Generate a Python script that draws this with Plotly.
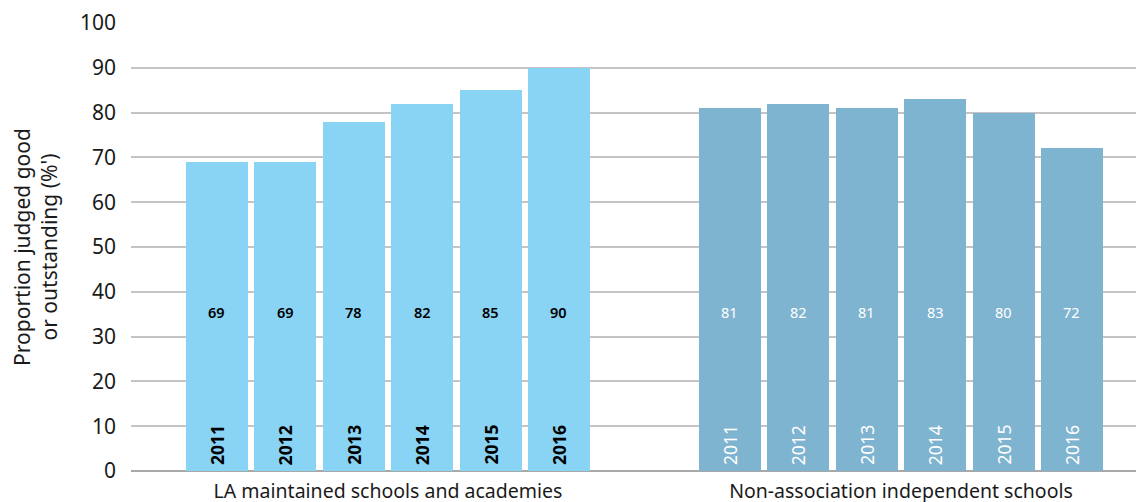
import plotly.graph_objects as go

years = ["2011", "2012", "2013", "2014", "2015", "2016"]
groups = ["LA maintained schools and academies", "Non-association independent schools"]
la_values = [69, 69, 78, 82, 85, 90]
nai_values = [81, 82, 81, 83, 80, 72]
y_ticks = [0, 10, 20, 30, 40, 50, 60, 70, 80, 90, 100]

FONT = "Noto Sans"
colors = ["#89D4F5", "#7FB4D0"]
text_colors = ["#000000", "#FFFFFF"]
value_weights = [600, 400]
group_offsets = [0, 7.5]

fig = go.Figure()
annotations = []
for gi, (vals, off) in enumerate(zip([la_values, nai_values], group_offsets)):
    xs = [off + i for i in range(len(years))]
    fig.add_trace(go.Bar(
        x=xs, y=vals, width=0.906, marker=dict(color=colors[gi], line=dict(width=0)),
        showlegend=False, hoverinfo="skip",
    ))
    for x, v, yr in zip(xs, vals, years):
        annotations.append(dict(
            x=x, y=35.5, xref="x", yref="y", text=str(v), showarrow=False,
            font=dict(family=FONT, size=14.5, color=text_colors[gi], weight=value_weights[gi]),
        ))
        annotations.append(dict(
            x=x, y=0, xref="x", yref="y", text=("<b>%s</b>" % yr) if gi == 0 else yr,
            textangle=-90, yanchor="bottom", yshift=4, showarrow=False,
            font=dict(family=FONT, size=17.5, color=text_colors[gi]),
        ))

fig.update_layout(
    width=1144, height=502,
    margin=dict(l=123, r=0, t=15, b=39),
    plot_bgcolor="white", paper_bgcolor="white",
    annotations=annotations,
    bargap=0,
    font=dict(family=FONT, color="#1a1a1a"),
    xaxis=dict(
        range=[-1.257, 13.67], automargin=False,
        tickvals=[2.5, 10], ticktext=groups,
        tickfont=dict(family=FONT, size=19.5, color="#1a1a1a"),
        showgrid=False, zeroline=False, ticks="", showline=False,
        ticklabelstandoff=6,
    ),
    yaxis=dict(
        range=[0, 100], tickvals=y_ticks, automargin=False,
        tickfont=dict(family=FONT, size=21, color="#1a1a1a"),
        showgrid=True, gridcolor="#C4C4C4", gridwidth=2,
        zeroline=True, zerolinecolor="#A8A8A8", zerolinewidth=2,
        ticks="", ticklabelstandoff=14,
        title=dict(text="Proportion judged good<br>or outstanding (%')",
                   font=dict(family=FONT, size=21, color="#1a1a1a"), standoff=20),
    ),
)

fig.write_html("out.html")
